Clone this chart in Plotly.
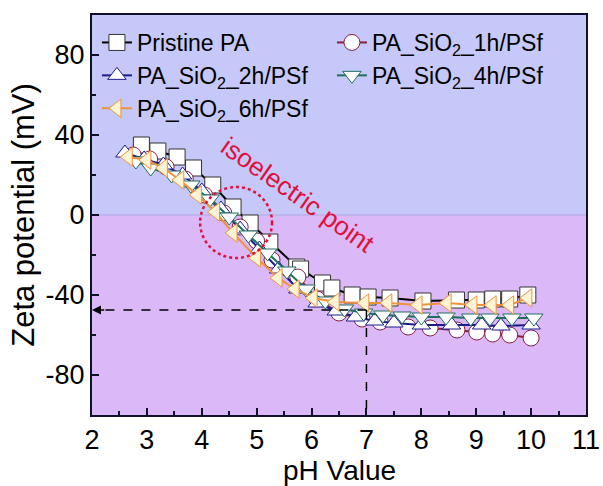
import plotly.graph_objects as go

# ---------------- data ----------------
ph_pristine = [2.9, 3.2, 3.55, 3.85, 4.2, 4.57, 4.88, 5.24, 5.73, 5.8, 6.2, 6.37, 6.74, 7.03, 7.43, 8.03, 8.64, 9.0, 9.3, 9.61, 9.94]
zeta_pristine = [35, 32, 29, 23.5, 15, 4, -4, -13.5, -26, -27, -34, -36.5, -40, -41, -41.5, -43, -42.5, -42.5, -42, -42, -40]

ph_1h = [2.75, 3.05, 3.35, 3.7, 4.05, 4.4, 4.7, 5.0, 5.28, 5.75, 6.1, 6.5, 6.92, 7.25, 7.76, 8.16, 8.65, 9.01, 9.3, 9.61, 10.0]
zeta_1h = [30, 28, 24, 18, 10, 1, -6, -13, -22.5, -31, -42, -49, -52, -53.5, -56, -56.5, -57.5, -58.5, -59.5, -60, -61.5]

ph_2h = [2.6, 2.95, 3.3, 3.65, 4.0, 4.35, 4.7, 5.05, 5.4, 5.75, 6.1, 6.45, 6.8, 7.15, 7.5, 8.0, 8.55, 9.1, 9.45, 10.0]
zeta_2h = [31, 28, 25, 20, 12, 3, -7, -17, -27, -37, -44, -48, -51, -53, -54, -55, -55, -55, -55.5, -55]

ph_4h = [2.8, 3.07, 3.45, 3.8, 4.15, 4.5, 4.85, 5.2, 5.55, 5.9, 6.25, 6.6, 6.95, 7.3, 7.65, 8.0, 8.45, 8.9, 9.25, 9.65, 10.05]
zeta_4h = [27, 23.5, 20, 15, 8, -1, -10, -19, -28, -37, -43, -47, -49, -50, -50.5, -51, -51, -51.5, -51.5, -51.5, -51.5]

ph_6h = [2.66, 3.0, 3.3, 3.6, 3.92, 4.25, 4.57, 5.0, 5.39, 5.7, 6.03, 6.43, 6.97, 7.39, 7.94, 8.47, 8.94, 9.29, 9.61, 9.94]
zeta_6h = [29, 27.5, 23.5, 17.5, 10, 1.5, -9, -21.5, -31.5, -37, -41.5, -43.5, -44, -44, -45, -44, -45, -45, -45, -41.5]

names = ["Pristine PA", "PA_SiO<sub>2</sub>_1h/PSf", "PA_SiO<sub>2</sub>_2h/PSf",
         "PA_SiO<sub>2</sub>_4h/PSf", "PA_SiO<sub>2</sub>_6h/PSf"]
x_ticks = [2, 3, 4, 5, 6, 7, 8, 9, 10, 11]
y_ticks = [-80, -40, 0, 40, 80]

iso_ph = 7
iso_zeta = -47.5

# ---------------- figure ----------------
series = [
    (ph_pristine, zeta_pristine, "#000000", "square", "white", "#333333"),
    (ph_1h, zeta_1h, "#8c1d40", "circle", "white", "#8c1d40"),
    (ph_2h, zeta_2h, "#1c1c8c", "triangle-up", "white", "#1c1c8c"),
    (ph_4h, zeta_4h, "#1f6e5e", "triangle-down", "white", "#1f6e5e"),
    (ph_6h, zeta_6h, "#f0923a", "triangle-left", "#fff3d6", "#f0923a"),
]

fig = go.Figure()
for (xs, ys, col, sym, fill, edge), nm in zip(series, names):
    fig.add_trace(go.Scatter(
        x=xs, y=ys, name=nm, mode="lines+markers",
        line=dict(color=col, width=2),
        marker=dict(symbol=sym, size=16, color=fill, line=dict(color=edge, width=1)),
    ))

font_family = "Liberation Sans, Arial, sans-serif"

fig.update_layout(
    width=603, height=486,
    margin=dict(l=92, r=17, t=15, b=71),
    paper_bgcolor="white",
    plot_bgcolor="#dbb9f8",
    font=dict(family=font_family, color="black"),
    showlegend=True,
    legend=dict(
        orientation="h", x=0.01, y=0.985, xanchor="left", yanchor="top",
        entrywidth=190, entrywidthmode="pixels",
        bgcolor="rgba(0,0,0,0)", font=dict(size=23, family=font_family),
        tracegroupgap=0,
    ),
)

fig.add_shape(type="rect", xref="x", yref="y", x0=2, x1=11, y0=0, y1=100,
              fillcolor="#c5c8f8", line=dict(width=0), layer="below")
fig.add_shape(type="line", xref="x", yref="y", x0=2, x1=11, y0=0, y1=0,
              line=dict(color="#b0a8e8", width=1), layer="below")

# isoelectric circle
fig.add_shape(type="circle", xref="x", yref="y", x0=3.97, x1=5.28, y0=-21.5, y1=14,
              line=dict(color="#e0103a", width=2.5, dash="dot"))

# dashed guide lines
fig.add_shape(type="line", xref="x", yref="y", x0=iso_ph, x1=2.1, y0=iso_zeta, y1=iso_zeta,
              line=dict(color="black", width=1.5, dash="dash"))
fig.add_shape(type="line", xref="x", yref="y", x0=iso_ph, x1=iso_ph, y0=iso_zeta, y1=-100,
              line=dict(color="black", width=1.5, dash="dash"))
fig.add_annotation(x=2.0, y=iso_zeta, ax=2.25, ay=iso_zeta, xref="x", yref="y",
                   axref="x", ayref="y", text="", showarrow=True, arrowhead=2,
                   arrowsize=1.2, arrowwidth=1.5, arrowcolor="black")

fig.add_annotation(x=5.75, y=10, xref="x", yref="y", text="isoelectric point",
                   showarrow=False, textangle=35,
                   font=dict(size=26, color="#e0103a", family=font_family))

# x-axis title as annotation for precise placement
fig.add_annotation(x=0.5, y=-0.1375, xref="paper", yref="paper", text="pH Value",
                   showarrow=False, xanchor="center", yanchor="middle",
                   font=dict(size=28, color="black", family=font_family))

axis_common = dict(
    showline=True, linecolor="#10102a", linewidth=2, mirror=True,
    ticks="inside", ticklen=7, tickwidth=1.5, tickcolor="#10102a",
    showgrid=False, zeroline=False, automargin=False,
    tickfont=dict(size=27, family=font_family),
)
fig.update_xaxes(range=[2, 11], tickvals=x_ticks, ticktext=[str(v) for v in x_ticks],
                 minor=dict(ticks="inside", ticklen=4, tickwidth=1.5, dtick=0.5, tickcolor="#10102a"),
                 **axis_common)
fig.update_yaxes(range=[-100, 100], tickvals=y_ticks, ticktext=[str(v) for v in y_ticks],
                 title=dict(text="Zeta potential (mV)", font=dict(size=31), standoff=2),
                 minor=dict(ticks="inside", ticklen=4, tickwidth=1.5, dtick=20, tick0=0, tickcolor="#10102a"),
                 **axis_common)

fig.write_html("out.html")
